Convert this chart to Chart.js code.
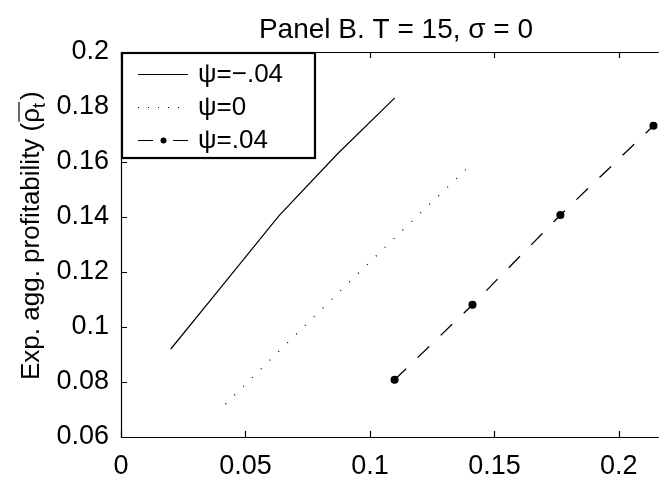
<!DOCTYPE html>
<html><head><meta charset="utf-8">
<script src="https://cdn.jsdelivr.net/npm/chart.js@4/dist/chart.umd.min.js"></script>
<style>html,body{margin:0;padding:0;background:#fff}#wrap{width:664px;height:480px;position:relative}</style>
</head><body><div id="wrap"><canvas id="c" width="664" height="480"></canvas></div>
<script>
const titleText = 'Panel B. T = 15, σ = 0';
const yAxisLabel = 'Exp. agg. profitability (';
const yAxisSymbol = 'ρ';
const yAxisSub = 't';
const seriesNames = ['ψ=−.04', 'ψ=0', 'ψ=.04'];
const xNeg = [0.02, 0.042, 0.0635, 0.087, 0.11];
const yNeg = [0.092, 0.1165, 0.1405, 0.163, 0.1833];
const xZero = [0.042, 0.066, 0.090, 0.114, 0.1385];
const yZero = [0.072, 0.0935, 0.1148, 0.136, 0.1572];
const xPos = [0.1099, 0.1412, 0.1765, 0.2139];
const yPos = [0.0808, 0.1081, 0.1407, 0.1732];
const xTicks = [0, 0.05, 0.1, 0.15, 0.2];
const xTickLabels = ['0', '0.05', '0.1', '0.15', '0.2'];
const yTicks = [0.06, 0.08, 0.1, 0.12, 0.14, 0.16, 0.18, 0.2];
const yTickLabels = ['0.06', '0.08', '0.1', '0.12', '0.14', '0.16', '0.18', '0.2'];

const FONT = '"Liberation Sans", Arial, Helvetica, sans-serif';
const pts = (xs, ys) => xs.map((x, i) => ({x: x, y: ys[i]}));

const styles = [
  {dash: [], marker: false},
  {dash: [1, 11.4], marker: false},
  {dash: [16, 16], marker: true}
];

const decor = {
  id: 'decor',
  afterDraw(chart) {
    const ctx = chart.ctx;
    const a = chart.chartArea;
    const xs = chart.scales.x, ys = chart.scales.y;
    ctx.save();
    // frame
    ctx.strokeStyle = '#000';
    ctx.lineWidth = 1.2;
    ctx.setLineDash([]);
    ctx.beginPath();
    ctx.moveTo(a.left + 0.5, a.top + 0.5);
    ctx.lineTo(a.left + 0.5, a.bottom + 0.5);
    ctx.lineTo(a.right, a.bottom + 0.5);
    ctx.moveTo(a.left + 0.5, a.top + 0.5);
    ctx.lineTo(a.right, a.top + 0.5);
    ctx.stroke();
    // inward ticks
    ctx.beginPath();
    xTicks.forEach(v => {
      const p = Math.round(xs.getPixelForValue(v)) + 0.5;
      ctx.moveTo(p, a.bottom); ctx.lineTo(p, a.bottom - 6);
      ctx.moveTo(p, a.top); ctx.lineTo(p, a.top + 6);
    });
    yTicks.forEach(v => {
      const p = Math.round(ys.getPixelForValue(v)) + 0.5;
      ctx.moveTo(a.left, p); ctx.lineTo(a.left + 6, p);
    });
    ctx.stroke();

    // title
    ctx.fillStyle = '#000';
    ctx.font = '28px ' + FONT;
    ctx.textAlign = 'center';
    ctx.textBaseline = 'alphabetic';
    ctx.fillText(titleText, 396, 38);

    // y-axis label
    ctx.save();
    ctx.translate(39, 380);
    ctx.rotate(-Math.PI / 2);
    ctx.textAlign = 'left';
    ctx.font = '26px ' + FONT;
    ctx.fillText(yAxisLabel, 0, 0);
    let w = ctx.measureText(yAxisLabel).width;
    ctx.fillText(yAxisSymbol, w, 0);
    const rw = ctx.measureText(yAxisSymbol).width;
    ctx.font = '18px ' + FONT;
    ctx.fillText(yAxisSub, w + rw, 6);
    const tw = ctx.measureText(yAxisSub).width;
    ctx.lineWidth = 1.2;
    ctx.beginPath();
    ctx.moveTo(w + 1, -20); ctx.lineTo(w + rw + tw + 1, -20);
    ctx.stroke();
    ctx.font = '26px ' + FONT;
    ctx.fillText(')', w + rw + tw + 3, 0);
    ctx.restore();

    // legend
    const L = 121, T = 52, R = 315, B = 158;
    ctx.fillStyle = '#fff';
    ctx.fillRect(L, T, R - L, B - T);
    ctx.strokeStyle = '#000';
    ctx.lineWidth = 2.2;
    ctx.setLineDash([]);
    ctx.strokeRect(L + 1, T + 1, R - L - 1, B - T - 1);
    const rows = [74, 107, 140];
    ctx.font = '26px ' + FONT;
    ctx.textAlign = 'left';
    ctx.textBaseline = 'middle';
    chart.data.datasets.forEach((ds, i) => {
      const y = rows[i];
      ctx.strokeStyle = '#000';
      ctx.lineWidth = 1.2;
      ctx.setLineDash(i === 1 ? [1, 9] : (i === 2 ? [15, 20] : []));
      ctx.beginPath();
      ctx.moveTo(138, y + 0.5); ctx.lineTo(188, y + 0.5);
      ctx.stroke();
      ctx.setLineDash([]);
      if (styles[i].marker) {
        ctx.fillStyle = '#000';
        ctx.beginPath();
        ctx.arc(163.5, y + 0.5, 3, 0, Math.PI * 2);
        ctx.fill();
      }
      ctx.fillStyle = '#000';
      ctx.fillText(ds.label, 198, y + 1);
    });
    ctx.restore();
  }
};

new Chart(document.getElementById('c'), {
  type: 'line',
  data: {
    datasets: [
      {label: seriesNames[0], data: pts(xNeg, yNeg), borderColor: '#000', borderWidth: 1.2, pointRadius: 0, borderDash: styles[0].dash, fill: false, tension: 0},
      {label: seriesNames[1], data: pts(xZero, yZero), borderColor: '#000', borderWidth: 1.3, pointRadius: 0, borderDash: styles[1].dash, fill: false, tension: 0},
      {label: seriesNames[2], data: pts(xPos, yPos), borderColor: '#000', borderWidth: 1.3, pointRadius: 3.4, pointBackgroundColor: '#000', pointBorderColor: '#000', borderDash: styles[2].dash, fill: false, tension: 0}
    ]
  },
  options: {
    responsive: false,
    animation: false,
    devicePixelRatio: 1,
    layout: {padding: {left: 0, top: 52, right: 0, bottom: 0}},
    plugins: {legend: {display: false}, title: {display: false}, tooltip: {enabled: false}},
    scales: {
      x: {
        type: 'linear', min: 0, max: 0.216,
        grid: {display: false}, border: {display: false},
        afterBuildTicks: s => { s.ticks = xTicks.map(v => ({value: v})); },
        afterFit: s => { s.height = 43; },
        ticks: {
          color: '#000', padding: 5, maxRotation: 0, autoSkip: false,
          font: {family: FONT, size: 27},
          callback: (v) => { const i = xTicks.findIndex(t => Math.abs(t - v) < 1e-9); return i >= 0 ? xTickLabels[i] : ''; }
        }
      },
      y: {
        type: 'linear', min: 0.06, max: 0.2,
        grid: {display: false}, border: {display: false},
        afterBuildTicks: s => { s.ticks = yTicks.map(v => ({value: v})); },
        afterFit: s => { s.width = 121; },
        ticks: {
          color: '#000', padding: 4, autoSkip: false,
          font: {family: FONT, size: 27},
          callback: (v) => { const i = yTicks.findIndex(t => Math.abs(t - v) < 1e-9); return i >= 0 ? yTickLabels[i] : ''; }
        }
      }
    }
  },
  plugins: [decor]
});
</script></body></html>
